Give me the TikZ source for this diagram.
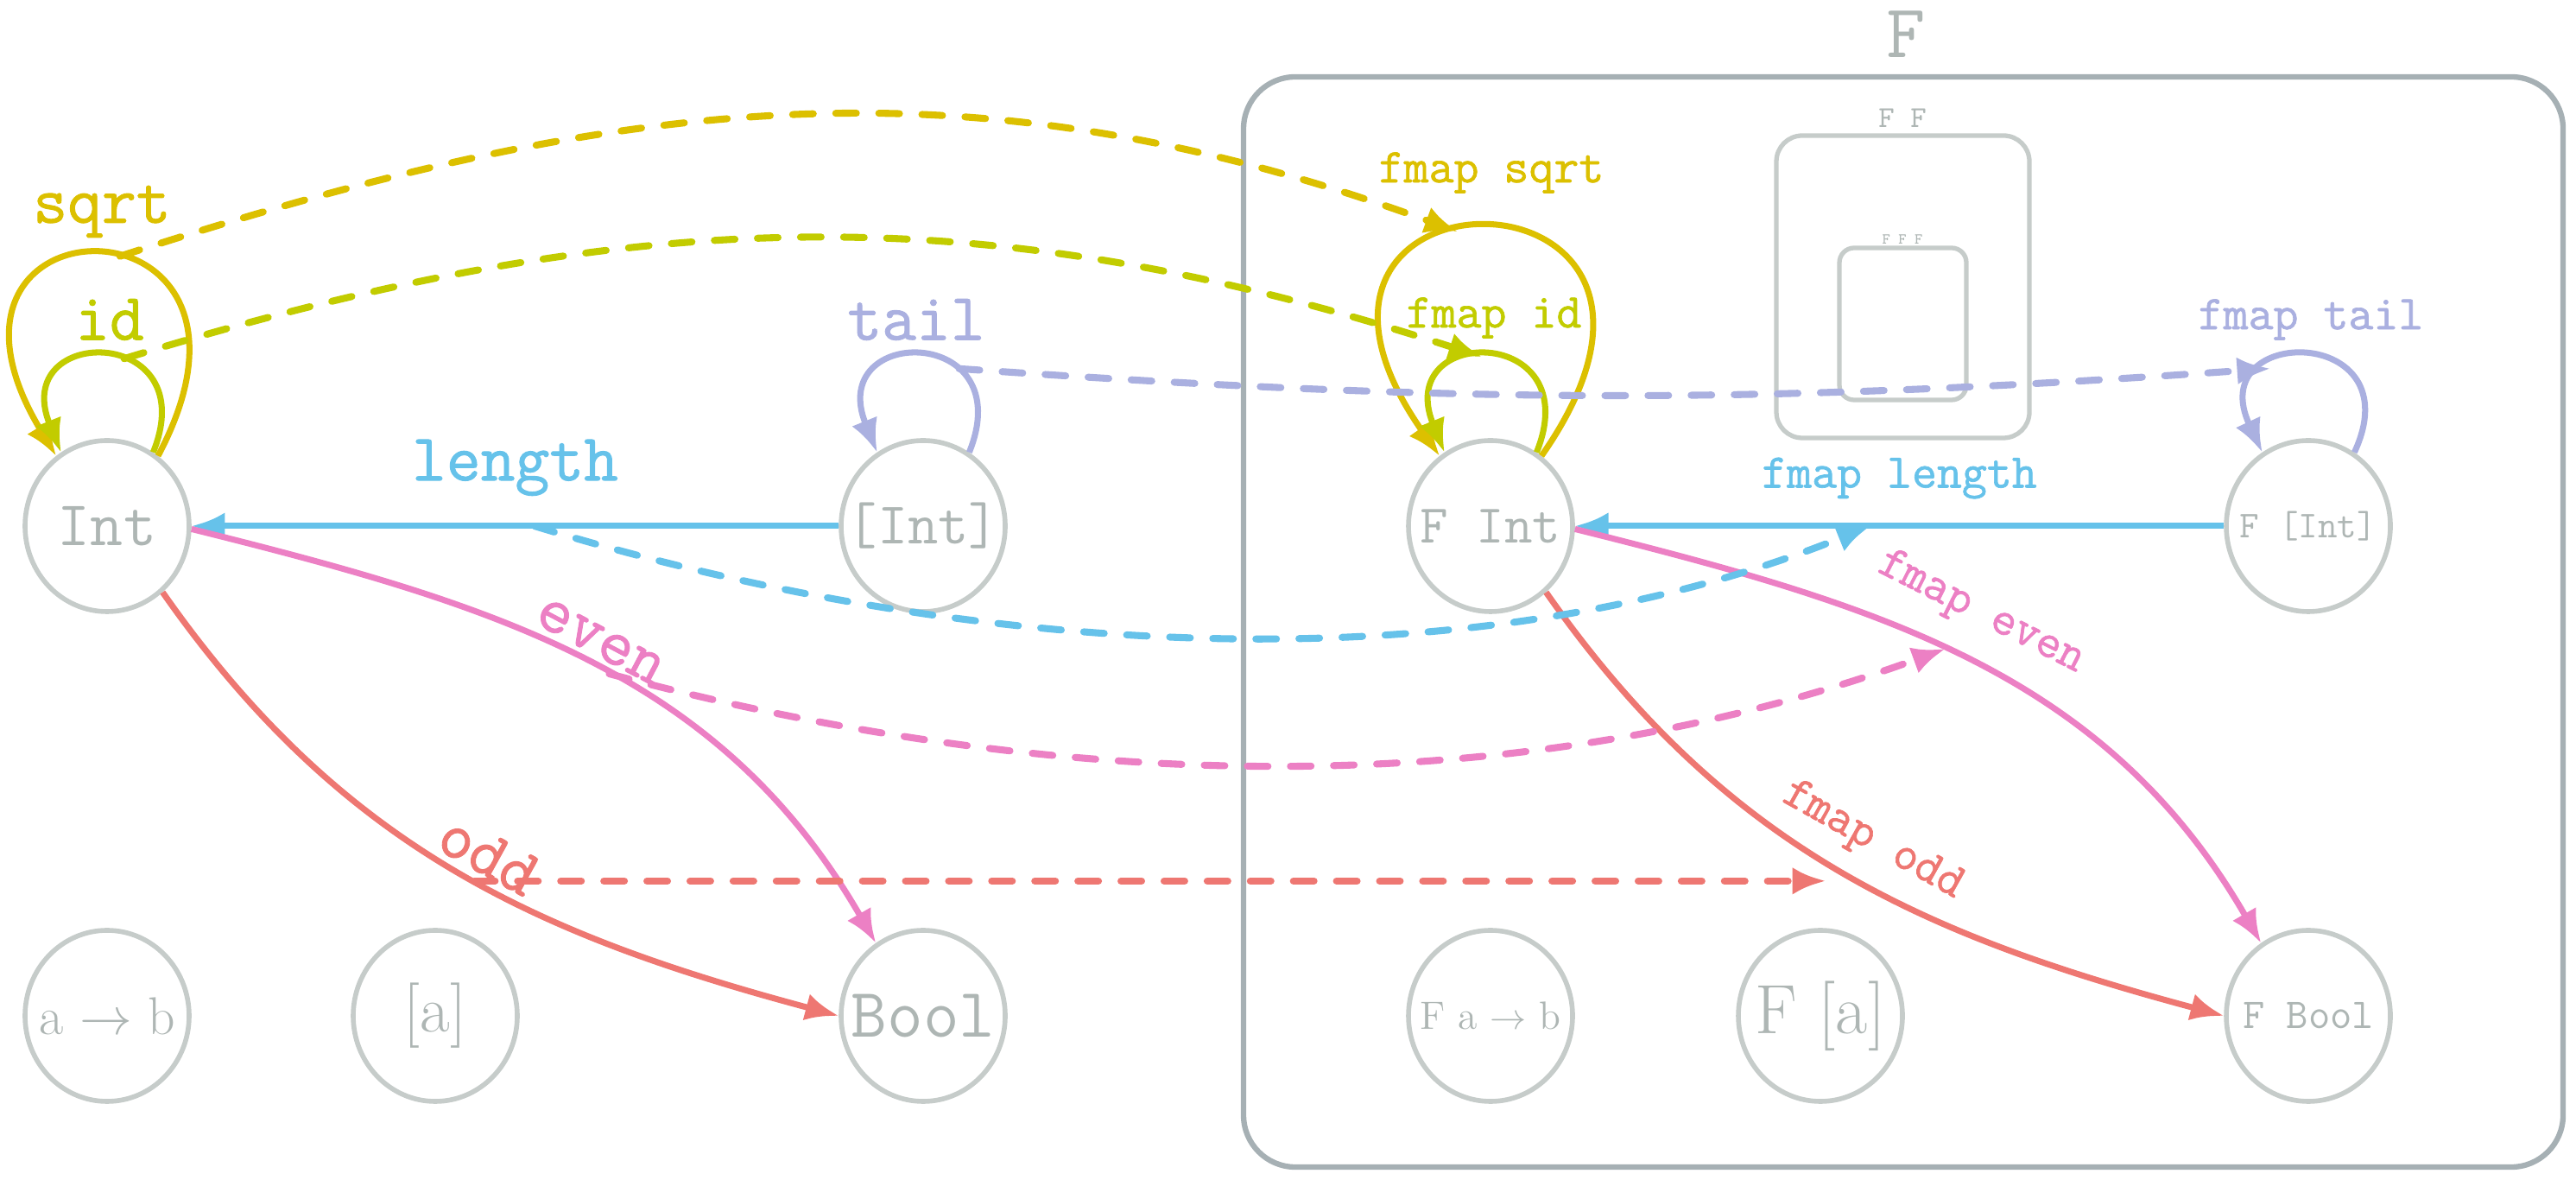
\documentclass[tikz,border=0pt]{standalone}
\usepackage{fontspec}
\usetikzlibrary{positioning,arrows.meta,shapes.geometric}
\newfontfamily\lbltt{Latin Modern Mono}[FakeBold=1.2]
\definecolor{nodegray}{HTML}{C6CCCA}
\definecolor{textgray}{HTML}{AEB6B4}
\definecolor{framegray}{HTML}{A6B0B4}
\definecolor{sqrtcol}{HTML}{DCC000}
\definecolor{idcol}{HTML}{C2CC00}
\definecolor{tailcol}{HTML}{AAB0E0}
\definecolor{lengthcol}{HTML}{66C2EA}
\definecolor{evencol}{HTML}{EC80C4}
\definecolor{oddcol}{HTML}{EE7772}
\newcommand{\fsz}[1]{\fontsize{#1}{#1}\selectfont}
\newcommand{\obtext}[2]{\makebox[0pt]{\fsz{#1}#2}}
\tikzset{
  obj/.style={ellipse, draw=nodegray, line width=1.6pt, minimum width=1.9cm,
    minimum height=1.98cm, inner sep=0pt, text=textgray, font=\ttfamily},
  catbox/.style={rectangle, rounded corners=#1, draw=nodegray, line width=1.5pt, inner sep=0pt},
  arr/.style={line width=2pt, -{Latex[length=11pt,width=9pt]}},
  lift/.style={line width=2.3pt, line cap=round, dash pattern=on 6.8pt off 7.4pt,
    -{Latex[length=11pt,width=9pt]}},
  lbl/.style={font=\lbltt\fsz{22pt}, inner sep=0pt},
  flbl/.style={font=\lbltt\fsz{16pt}, inner sep=0pt},
}
\begin{document}
\begin{tikzpicture}[on grid]
\useasboundingbox (0,0) rectangle (29.83,13.66);
% the functor F and its nested images
\node[catbox=0.6cm, draw=framegray, line width=1.8pt, minimum width=15.28cm, minimum height=12.62cm] (F) at (22.04,6.46) {};
\node[font=\ttfamily\fsz{25pt}, text=textgray] (Flbl) at (22.07,13.26) {F};
\node[catbox=0.3cm, minimum width=2.93cm, minimum height=3.5cm] (FF) at (22.035,10.34) {};
\node[font=\ttfamily\fsz{10pt}, text=textgray] (FFlbl) at (22.03,12.29) {F F};
\node[catbox=0.17cm, minimum width=1.47cm, minimum height=1.76cm] (FFF) at (22.035,9.91) {};
\node[font=\ttfamily\fsz{5pt}, text=textgray] (FFFlbl) at (22.03,10.89) {F F F};
% objects
\node[obj] (int) at (1.24,7.57) {\obtext{21pt}{Int}};
\node[obj, right=9.45cm of int] (lst) {\obtext{19.5pt}{[Int]}};
\node[obj, right=6.57cm of lst] (fint) {\obtext{18pt}{F Int}};
\node[obj, right=9.47cm of fint] (flst) {\obtext{12.5pt}{F [Int]}};
\node[obj, below=5.67cm of int, font=\rmfamily] (ab) {\obtext{17.5pt}{a $\rightarrow$ b}};
\node[obj, right=3.80cm of ab, font=\rmfamily] (la) {\obtext{21.5pt}{[a]}};
\node[obj, right=5.65cm of la] (bool) {\obtext{23pt}{Bool}};
\node[obj, below=5.67cm of fint, font=\rmfamily] (fab) {\obtext{13pt}{F a $\rightarrow$ b}};
\node[obj, right=3.82cm of fab, font=\rmfamily] (fla) {\obtext{23pt}{F [a]}};
\node[obj, below=5.67cm of flst] (fbool) {\obtext{14pt}{F Bool}};
% morphisms
\draw[arr, sqrtcol] (int.54) .. controls +(62:3.55) and +(121:3.6) .. (int.126) coordinate[pos=.45] (sqrtA);
\draw[arr, idcol] (int.58) .. controls +(68:1.6) and +(112:1.6) .. (int.122) coordinate[pos=.42] (idA);
\draw[arr, tailcol] (lst.58) .. controls +(68:1.6) and +(112:1.6) .. (lst.122) coordinate[pos=.32] (tailA);
\draw[arr, lengthcol] (lst) -- node[lbl, above=9pt] {length} node[coordinate, pos=.47] (lengthA) {} (int);
\draw[arr, evencol] (int.-2) to[out=-14, in=120] node[lbl, sloped, above=2pt, pos=.5] {even}
  node[coordinate, pos=.53] (evenA) {} (bool.123);
\draw[arr, oddcol] (int.-50) to[out=-55, in=165] node[lbl, sloped, above=2pt, pos=.53] {odd}
  node[coordinate, pos=.53] (oddA) {} (bool.west);
% lifted morphisms
\draw[arr, sqrtcol] (fint.54) .. controls +(55:4.31) and +(125:4.31) .. (fint.126) coordinate[pos=.57] (fsqrtA);
\draw[arr, idcol] (fint.58) .. controls +(68:1.6) and +(112:1.6) .. (fint.122) coordinate[pos=.54] (fidA);
\draw[arr, tailcol] (flst.58) .. controls +(65:1.64) and +(115:1.64) .. (flst.122) coordinate[pos=.68] (ftailA);
\draw[arr, lengthcol] (flst) -- node[flbl, above=8pt] {fmap length} node[coordinate, pos=.545] (flengthA) {} (fint);
\draw[arr, evencol] (fint.-2) to[out=-14, in=120] node[flbl, sloped, above=8pt, pos=.48] {fmap even}
  node[coordinate, pos=.46] (fevenA) {} (fbool.123);
\draw[arr, oddcol] (fint.-50) to[out=-55, in=165] node[flbl, sloped, above=6pt, pos=.52] {fmap odd}
  node[coordinate, pos=.48] (foddA) {} (fbool.west);
% loop labels
\node[lbl, text=sqrtcol] (sqrtlbl) at (1.18,11.21) {sqrt};
\node[lbl, text=idcol] (idlbl) at (1.27,9.96) {id};
\node[lbl, text=tailcol] (taillbl) at (10.61,9.96) {tail};
\node[flbl, text=sqrtcol] (fsqrtlbl) at (17.27,11.66) {fmap sqrt};
\node[flbl, text=idcol] (fidlbl) at (17.30,9.98) {fmap id};
\node[flbl, text=tailcol] (ftaillbl) at (26.76,9.96) {fmap tail};
% fmap
\draw[lift, sqrtcol] (sqrtA) to[out=18, in=160] (fsqrtA);
\draw[lift, idcol] (idA) to[out=17, in=162] (fidA);
\draw[lift, tailcol] (tailA) to[bend right=4] (ftailA);
\draw[lift, lengthcol] (lengthA) to[out=-17, in=-158, looseness=.85] (flengthA);
\draw[lift, evencol] (evenA) to[out=-15, in=-160, looseness=.88] (fevenA);
\draw[lift, oddcol] (oddA) -- (oddA -| foddA);
\end{tikzpicture}
\end{document}
